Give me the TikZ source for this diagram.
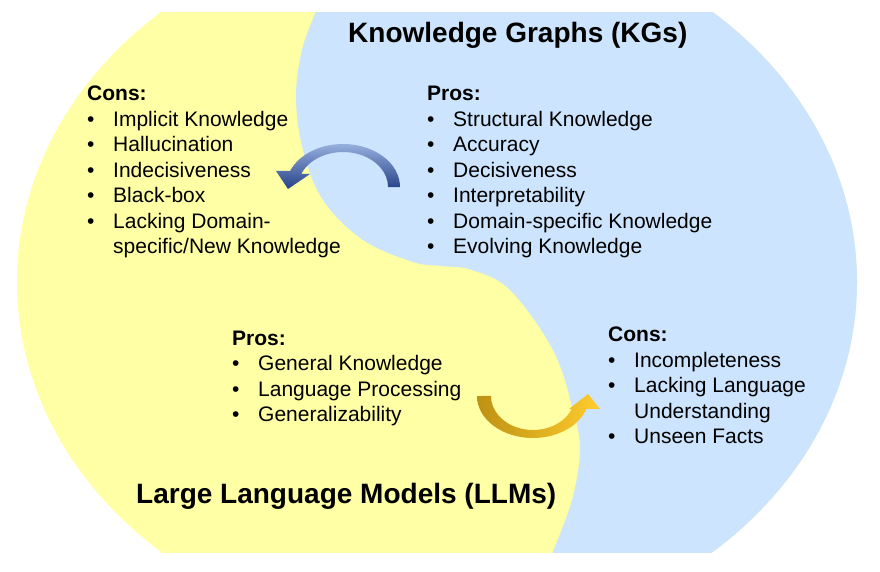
\documentclass[tikz,border=0pt]{standalone}
\usepackage{fontspec}
\setmainfont{Liberation Sans}
\definecolor{llmyellow}{RGB}{255,255,165}
\definecolor{kgblue}{RGB}{204,228,253}
\definecolor{arrowbluelight}{RGB}{150,175,222}
\definecolor{arrowbluedark}{RGB}{38,66,135}
\definecolor{golddark}{RGB}{190,145,20}
\definecolor{goldlight}{RGB}{255,205,45}
\newcommand{\itembul}{\makebox[26pt][l]{\textbullet}}
\begin{document}
\begin{tikzpicture}[x=1pt,y=-1pt,
  body/.style={font=\fontsize{21}{25.5}\selectfont, inner sep=0pt, anchor=base west},
  ttl/.style={font=\fontsize{28}{33}\selectfont\bfseries, inner sep=0pt, anchor=base west}]
\useasboundingbox (0,0) rectangle (880,572);
% background halves
\begin{scope}
  \clip (0,13) rectangle (880,552);
  \clip (437,282) ellipse [x radius=420, y radius=358];
  \fill[llmyellow] (0,0) rectangle (880,572);
  \fill[kgblue] plot[smooth,tension=0.6] coordinates {(317,0) (315,13) (302,50) (296,97) (303,150) (323,200) (363,240) (413,262) (442,266) (472,270) (510,290) (553,350) (573,410) (580,450) (572,500) (553,552) (549,565)}
     -- (900,565) -- (900,0) -- cycle;
\end{scope}
% blue curved arrow (KG -> LLM)
\shade[top color=arrowbluelight, bottom color=arrowbluedark]
  (400,187) arc[start angle=0, end angle=-158, x radius=57, y radius=43]
  -- (276,171) -- (288,189) -- (310,174) -- (301.3,173.9)
  arc[start angle=-158, end angle=0, x radius=45, y radius=35] -- cycle;
% gold curved arrow (LLM -> KG)
\shade[left color=golddark, right color=goldlight]
  (477,396) arc[start angle=180, end angle=18, x radius=56, y radius=42]
  -- (600,409) -- (588,394) -- (569,409) -- (571.8,409.0)
  arc[start angle=22.5, end angle=180, x radius=42, y radius=34] -- cycle;
% titles
\node[ttl] (kgtitle) at (348,43) {Knowledge Graphs (KGs)};
\node[ttl] (llmtitle) at (136,503) {Large Language Models (LLMs)};
% lists
\node[body] (llmcons) at (87,101) {\begin{tabular}[t]{@{}l@{}l@{}}
  \multicolumn{2}{@{}l@{}}{\textbf{Cons:}}\\
  \itembul & Implicit Knowledge\\
  \itembul & Hallucination\\
  \itembul & Indecisiveness\\
  \itembul & Black-box\\
  \itembul & Lacking Domain-\\
           & specific/New Knowledge
\end{tabular}};
\node[body] (kgpros) at (427,101) {\begin{tabular}[t]{@{}l@{}l@{}}
  \multicolumn{2}{@{}l@{}}{\textbf{Pros:}}\\
  \itembul & Structural Knowledge\\
  \itembul & Accuracy\\
  \itembul & Decisiveness\\
  \itembul & Interpretability\\
  \itembul & Domain-specific Knowledge\\
  \itembul & Evolving Knowledge
\end{tabular}};
\node[body] (llmpros) at (232,345) {\begin{tabular}[t]{@{}l@{}l@{}}
  \multicolumn{2}{@{}l@{}}{\textbf{Pros:}}\\
  \itembul & General Knowledge\\
  \itembul & Language Processing\\
  \itembul & Generalizability
\end{tabular}};
\node[body] (kgcons) at (608,341.7) {\begin{tabular}[t]{@{}l@{}l@{}}
  \multicolumn{2}{@{}l@{}}{\textbf{Cons:}}\\
  \itembul & Incompleteness\\
  \itembul & Lacking Language\\
           & Understanding\\
  \itembul & Unseen Facts
\end{tabular}};
\end{tikzpicture}
\end{document}
